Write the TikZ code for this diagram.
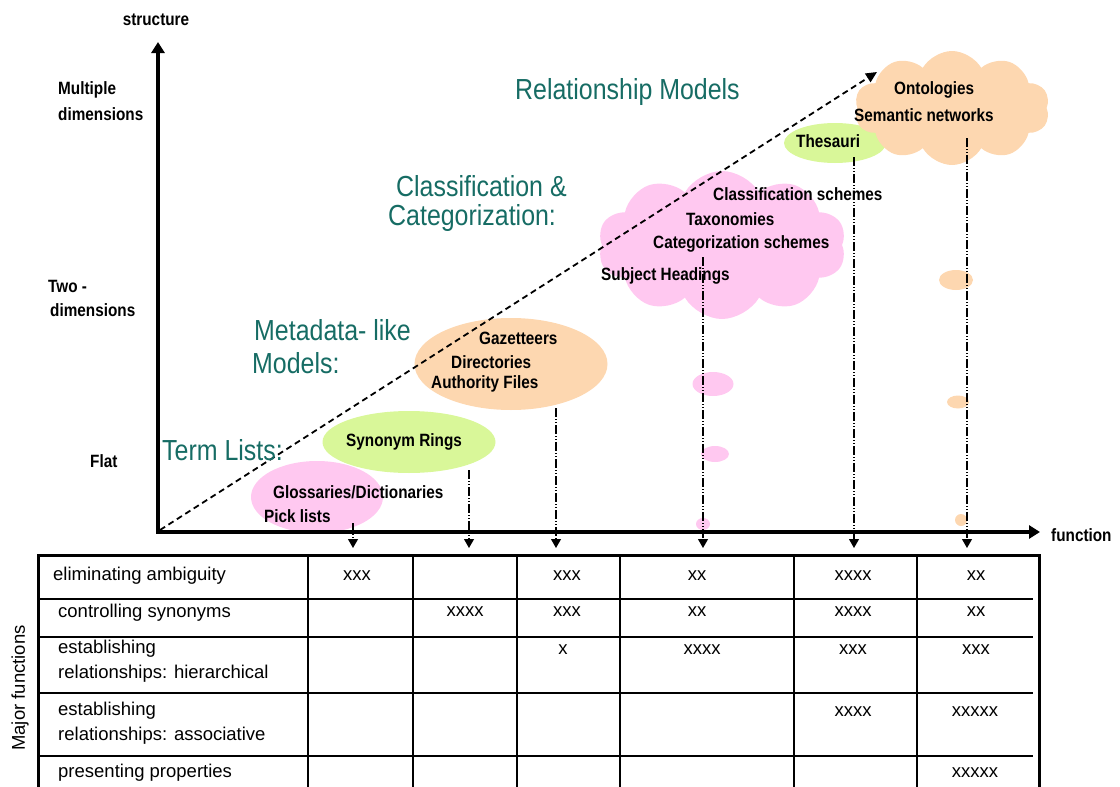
\documentclass[tikz,border=0pt]{standalone}
\usepackage{fontspec}
\setmainfont{Liberation Sans}
\newfontfamily\nbfont{Liberation Sans}[FakeStretch=0.86]
\usetikzlibrary{shapes.geometric,shapes.symbols,arrows.meta}
\definecolor{tealtxt}{RGB}{22,108,100}
\definecolor{pinkc}{RGB}{255,200,240}
\definecolor{greenc}{RGB}{217,247,153}
\definecolor{peachc}{RGB}{253,215,176}
\begin{document}
\begin{tikzpicture}[x=1pt,y=-1pt,
  lbl/.style={font=\nbfont\bfseries\fontsize{17.8}{20}\selectfont, inner sep=0pt, anchor=west},
  cat/.style={font=\nbfont\fontsize{29}{32}\selectfont, text=tealtxt, inner sep=0pt, anchor=west},
  cell/.style={font=\fontsize{18.5}{21}\selectfont, inner sep=0pt},
  rowlbl/.style={cell, anchor=west},
  axisline/.style={line width=4pt, -{Triangle[length=11pt,width=13pt]}},
  vline/.style={line width=1.1pt, dash pattern=on 9pt off 2pt on 1pt off 2pt on 1pt off 2pt, -{Triangle[length=9pt,width=10pt]}},
  blob/.style={ellipse, inner sep=0pt, draw=none},
  puff/.style={cloud, cloud puffs=10, cloud puff arc=120, cloud ignores aspect, inner sep=0pt, draw=none},
  frame/.style={line width=3pt},
  grid/.style={line width=1.1pt}
]
\useasboundingbox (0,0) rectangle (1120,787);

% ---------- shapes ----------
\node[blob, fill=pinkc, minimum width=132pt, minimum height=72pt] (gloss) at (317,497) {};
\node[blob, fill=greenc, minimum width=173pt, minimum height=62pt] (syn) at (409,442) {};
\node[blob, fill=peachc, minimum width=193pt, minimum height=92pt] (gaz) at (511,364) {};
\node[puff, fill=pinkc, minimum width=248pt, minimum height=148pt] (cls) at (722,245) {};
\node[blob, fill=greenc, minimum width=102pt, minimum height=40pt] (thes) at (835,143) {};
\node[puff, fill=peachc, minimum width=195pt, minimum height=114pt] (onto) at (952,108) {};

\node[blob, fill=pinkc, minimum width=41pt, minimum height=24pt] (p1) at (713,384) {};
\node[blob, fill=pinkc, minimum width=28pt, minimum height=16pt] (p2) at (715,454) {};
\node[blob, fill=pinkc, minimum width=14pt, minimum height=12pt] (p3) at (703,524) {};
\node[blob, fill=peachc, minimum width=34pt, minimum height=20pt] (o1) at (956,280) {};
\node[blob, fill=peachc, minimum width=22pt, minimum height=13pt] (o2) at (958,402) {};
\node[blob, fill=peachc, minimum width=12pt, minimum height=12pt] (o3) at (961,520) {};

% ---------- axes ----------
\coordinate (org) at (158,532);
\coordinate (ytip) at (158,42);
\coordinate (xtip) at (1040,532);
\draw[axisline, line cap=rect] (org) -- (ytip);
\draw[axisline, line cap=rect] (org) -- (xtip);

\node[lbl, anchor=center] (structure) at (156,20) {structure};
\node[lbl] (multi) at (58,90) {Multiple};
\node[lbl] (multi2) at (58,114) {dimensions};
\node[lbl] (two) at (48,286) {Two -};
\node[lbl] (two2) at (50,310) {dimensions};
\node[lbl] (flat) at (90,461) {Flat};
\node[lbl] (function) at (1051,535) {function};

% ---------- dashed growth arrow ----------
\coordinate (ds) at (160,530);
\coordinate (de) at (877,72);
\draw[line width=1.8pt, dash pattern=on 6pt off 4pt, -{Triangle[length=11pt,width=10pt]}] (ds) -- (de);

% ---------- category titles ----------
\node[cat] (relm) at (515,92) {Relationship Models};
\node[cat] (clsA) at (396,186) {Classification \&};
\node[cat] (clsB) at (388,218) {Categorization:};
\node[cat] (metaA) at (254,330) {Metadata- like};
\node[cat] (metaB) at (252,363) {Models:};
\node[cat] (terml) at (162,450) {Term Lists:};

% ---------- item labels ----------
\node[lbl] (tGloss) at (273,492) {Glossaries/Dictionaries};
\node[lbl] (tPick) at (264,516) {Pick lists};
\node[lbl] (tSyn) at (346,442) {Synonym Rings};
\node[lbl] (tGaz) at (479,338) {Gazetteers};
\node[lbl] (tDir) at (451,362) {Directories};
\node[lbl] (tAuth) at (431,384) {Authority Files};
\node[lbl] (tCls) at (713,194) {Classification schemes};
\node[lbl] (tTax) at (686,219) {Taxonomies};
\node[lbl] (tCat) at (653,244) {Categorization schemes};
\node[lbl] (tSub) at (601,276) {Subject Headings};
\node[lbl] (tThes) at (796,141) {Thesauri};
\node[lbl] (tOnt) at (894,90) {Ontologies};
\node[lbl] (tSem) at (854,115) {Semantic networks};

% ---------- drop lines ----------
\foreach \n/\x/\y in {a/353/523, b/469/470, c/556/408, d/703/257, e/854/157, f/967/138}{
  \coordinate (s\n) at (\x,\y);
  \coordinate (e\n) at (\x,548);
  \draw[vline] (s\n) -- (e\n);
}

% ---------- table ----------
\draw[frame] (38,787) -- (38,555) -- (1039,555) -- (1039,787);
\foreach \x in {308,413,517,620,794,917}{\draw[grid] (\x,555) -- (\x,787);}
\foreach \y in {599,637,693,756}{\draw[grid] (38,\y) -- (1033,\y);}

\node[cell, rotate=90] (major) at (20,688) {Major functions};

\node[rowlbl] (r1) at (53,576) {eliminating ambiguity};
\node[rowlbl] (r2) at (58,613) {controlling synonyms};
\node[rowlbl] (r3a) at (58,649) {establishing};
\node[rowlbl] (r3b) at (58,674) {relationships: hierarchical};
\node[rowlbl] (r4a) at (58,711) {establishing};
\node[rowlbl] (r4b) at (58,736) {relationships: associative};
\node[rowlbl] (r5) at (58,773) {presenting properties};

\node[cell] at (357,576) {xxx};
\node[cell] at (567,576) {xxx};
\node[cell] at (697,576) {xx};
\node[cell] at (853,576) {xxxx};
\node[cell] at (976,576) {xx};

\node[cell] at (465,612) {xxxx};
\node[cell] at (567,612) {xxx};
\node[cell] at (697,612) {xx};
\node[cell] at (853,612) {xxxx};
\node[cell] at (976,612) {xx};

\node[cell] at (563,650) {x};
\node[cell] at (702,650) {xxxx};
\node[cell] at (853,650) {xxx};
\node[cell] at (976,650) {xxx};

\node[cell] at (853,712) {xxxx};
\node[cell] at (975,712) {xxxxx};

\node[cell] at (975,773) {xxxxx};
\end{tikzpicture}
\end{document}
